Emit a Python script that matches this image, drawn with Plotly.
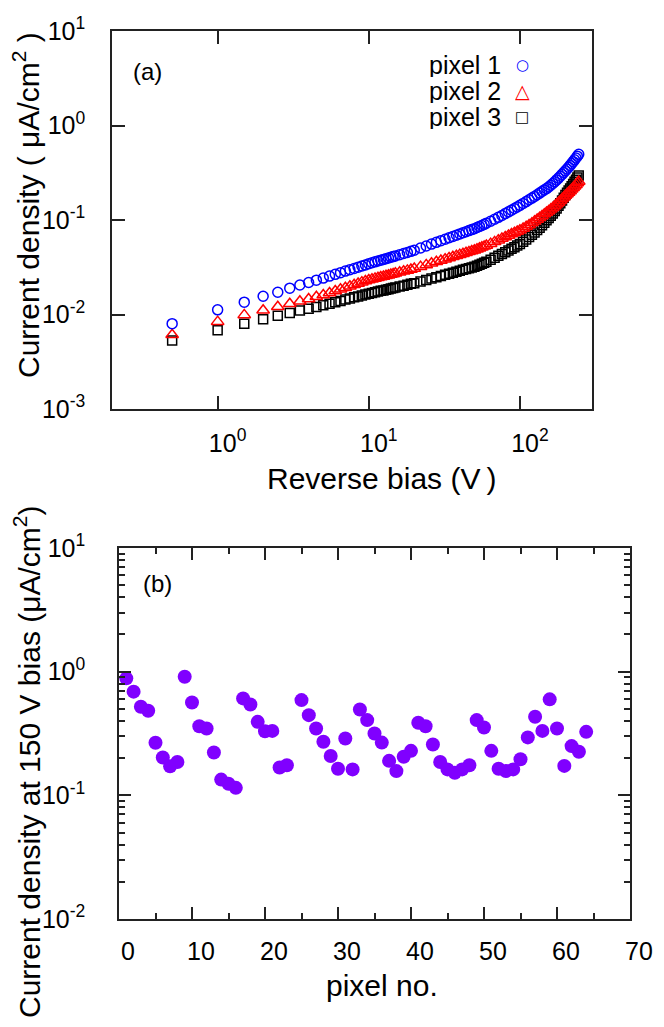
import plotly.graph_objects as go

# ---- panel (a): current density vs reverse bias (uA/cm^2) ----
bias = [0.5, 1, 1.5, 2, 2.5, 3, 3.5, 4, 4.5, 5, 5.5, 6, 6.5, 7, 7.5, 8, 8.5, 9, 9.5, 10,
        10.5, 11, 11.5, 12, 12.5, 13, 13.5, 14, 14.5, 15, 16, 17, 18, 19, 20,
        22, 24, 26, 28, 30, 32, 34, 36, 38, 40, 42, 44, 46, 48, 50, 52, 54, 56, 58, 60,
        64, 68, 72, 76, 80, 84, 88, 92, 96, 100,
        105, 110, 115, 120, 125, 130, 135, 140, 145, 150, 155, 160, 165, 170, 175, 180,
        185, 190, 195, 200, 205, 210, 215, 220, 225, 230, 235, 240, 245]

pixel1 = [0.0080, 0.0112, 0.0135, 0.0156, 0.0172, 0.0190, 0.0205, 0.0218, 0.0231, 0.0243,
          0.0255, 0.0266, 0.0277, 0.0288, 0.0298, 0.0307, 0.0317, 0.0326, 0.0335, 0.0345,
          0.0353, 0.0361, 0.0368, 0.0375, 0.0383, 0.0390, 0.0397, 0.0403, 0.0410, 0.0417,
          0.0430, 0.0442, 0.0454, 0.0466, 0.0478,
          0.0505, 0.0531, 0.0556, 0.0580, 0.0604, 0.0626, 0.0649, 0.0670, 0.0691, 0.0712,
          0.0732, 0.0752, 0.0772, 0.0791, 0.0810, 0.0832, 0.0855, 0.0877, 0.0900, 0.0923,
          0.0970, 0.1018, 0.1067, 0.1117, 0.1169, 0.1219, 0.1270, 0.1322, 0.1376, 0.1430,
          0.1497, 0.1566, 0.1636, 0.1705, 0.1777, 0.1851, 0.1927, 0.2005, 0.2080, 0.2150,
          0.2236, 0.2331, 0.2434, 0.2539, 0.2655, 0.2775, 0.2903, 0.3036, 0.3180, 0.3320,
          0.3463, 0.3616, 0.3782, 0.3961, 0.4144, 0.4331, 0.4531, 0.4739, 0.4950]

pixel2 = [0.0061, 0.0084, 0.0099, 0.0111, 0.0121, 0.0130, 0.0138, 0.0146, 0.0154, 0.0161,
          0.0169, 0.0177, 0.0185, 0.0192, 0.0199, 0.0206, 0.0213, 0.0220, 0.0226, 0.0232,
          0.0236, 0.0241, 0.0245, 0.0249, 0.0253, 0.0257, 0.0261, 0.0265, 0.0269, 0.0273,
          0.0280, 0.0287, 0.0293, 0.0299, 0.0306,
          0.0321, 0.0335, 0.0348, 0.0361, 0.0373, 0.0385, 0.0397, 0.0408, 0.0419, 0.0430,
          0.0440, 0.0450, 0.0460, 0.0470, 0.0479, 0.0490, 0.0502, 0.0514, 0.0526, 0.0538,
          0.0562, 0.0587, 0.0612, 0.0637, 0.0662, 0.0685, 0.0712, 0.0734, 0.0756, 0.0778,
          0.0813, 0.0850, 0.0887, 0.0927, 0.0968, 0.1011, 0.1057, 0.1104, 0.1154, 0.1200,
          0.1246, 0.1297, 0.1351, 0.1409, 0.1469, 0.1533, 0.1600, 0.1670, 0.1741, 0.1820,
          0.1886, 0.1956, 0.2032, 0.2110, 0.2192, 0.2280, 0.2367, 0.2459, 0.2555]

pixel3 = [0.0053, 0.0068, 0.0080, 0.0089, 0.0097, 0.0104, 0.0110, 0.0115, 0.0120, 0.0125,
          0.0130, 0.0135, 0.0139, 0.0144, 0.0148, 0.0152, 0.0155, 0.0159, 0.0163, 0.0166,
          0.0169, 0.0172, 0.0175, 0.0178, 0.0180, 0.0183, 0.0185, 0.0188, 0.0191, 0.0193,
          0.0198, 0.0202, 0.0206, 0.0211, 0.0214,
          0.0223, 0.0232, 0.0240, 0.0248, 0.0256, 0.0263, 0.0270, 0.0277, 0.0284, 0.0290,
          0.0297, 0.0303, 0.0309, 0.0315, 0.0320, 0.0328, 0.0336, 0.0344, 0.0353, 0.0362,
          0.0380, 0.0399, 0.0418, 0.0436, 0.0455, 0.0475, 0.0495, 0.0515, 0.0536, 0.0557,
          0.0589, 0.0623, 0.0660, 0.0698, 0.0739, 0.0783, 0.0830, 0.0880, 0.0934, 0.0991,
          0.1047, 0.1108, 0.1175, 0.1248, 0.1327, 0.1413, 0.1506, 0.1607, 0.1718, 0.1837,
          0.1940, 0.2047, 0.2160, 0.2278, 0.2403, 0.2534, 0.2671, 0.2814, 0.2965]

# ---- panel (b): current density at 150 V for each pixel ----
pixel_no = [1, 2, 3, 4, 5, 6, 7, 8, 9, 10, 11, 12, 13, 14, 15, 16, 17, 18, 19, 20, 21, 22, 23,
            25, 26, 27, 28, 29, 30, 31, 32, 33, 34, 35, 36, 37, 38, 39, 40, 41, 42, 43, 44,
            45, 46, 47, 48, 49, 50, 51, 52, 53, 54, 55, 56, 57, 58, 59, 60, 61, 62, 63, 64]
j150 = [0.883, 0.689, 0.520, 0.483, 0.266, 0.202, 0.172, 0.186, 0.910, 0.564, 0.362, 0.347,
        0.222, 0.134, 0.124, 0.115, 0.608, 0.543, 0.393, 0.330, 0.332, 0.168, 0.175,
        0.589, 0.445, 0.347, 0.271, 0.208, 0.164, 0.288, 0.162, 0.495, 0.406, 0.316, 0.267,
        0.190, 0.157, 0.205, 0.229, 0.386, 0.362, 0.258, 0.186, 0.162, 0.152, 0.162, 0.175,
        0.406, 0.354, 0.229, 0.164, 0.157, 0.162, 0.196, 0.294, 0.432, 0.332, 0.597, 0.347,
        0.173, 0.250, 0.225, 0.326]

# the page body has an 8px margin, so the figure is a bit smaller than the window
OFF = 8
W, H = 664 - OFF, 1027 - OFF
FONT = "Liberation Sans, Arial, sans-serif"
AX = "#222222"


def px(x):
    return (x - OFF) / W


def py(y):
    return 1 - (y - OFF) / H


def sup(e):
    return "10<sup>%d</sup>" % e


fig = go.Figure()

series = [("pixel 1", pixel1, "circle-open", "#0000ff", 10, "○", 15),
          ("pixel 2", pixel2, "triangle-up-open", "#ff0000", 11, "△", 19),
          ("pixel 3", pixel3, "square-open", "#000000", 9, "□", 15)]
for name, ys, sym, col, sz, _, _ in series[::-1]:
    fig.add_trace(go.Scatter(x=bias, y=ys, mode="markers", name=name, showlegend=False,
                             marker=dict(symbol=sym, size=sz, color=col,
                                         line=dict(color=col, width=1.5)),
                             xaxis="x", yaxis="y"))

fig.add_trace(go.Scatter(x=pixel_no, y=j150, mode="markers", showlegend=False,
                         marker=dict(size=14, color="#8000ff"),
                         xaxis="x2", yaxis="y2"))

common = dict(showgrid=False, zeroline=False, showline=True, linecolor=AX, linewidth=1.5,
              mirror="allticks", ticks="inside", tickcolor=AX, tickwidth=1.5,
              tickfont=dict(family=FONT, size=25, color="black"), automargin=False)

fig.update_layout(
    width=W, height=H, margin=dict(l=0, r=0, t=0, b=0),
    paper_bgcolor="white", plot_bgcolor="white", showlegend=False,
    font=dict(family=FONT, color="black"),
    xaxis=dict(common, domain=[px(112), px(592)], anchor="y", type="log",
               range=[-0.699, 2.477], tickvals=[1, 10, 100],
               ticktext=[sup(0), sup(1), sup(2)], ticklen=13, ticklabelstandoff=11,
               ticklabelshift=10),
    yaxis=dict(common, domain=[py(409), py(31)], anchor="x", type="log",
               range=[-3, 1], tickvals=[1e-3, 1e-2, 1e-1, 1, 10],
               ticktext=[sup(-3), sup(-2), sup(-1), sup(0), sup(1)], ticklen=13,
               ticklabelstandoff=20),
    xaxis2=dict(common, domain=[px(119), px(630)], anchor="y2", range=[0, 70],
                tickvals=[0, 10, 20, 30, 40, 50, 60, 70], ticklen=12,
                ticklabelshift=9, ticklabelstandoff=9,
                minor=dict(tickvals=[5, 15, 25, 35, 45, 55, 65], ticks="inside",
                           ticklen=6, tickcolor=AX, tickwidth=1.5, showgrid=False)),
    yaxis2=dict(common, domain=[py(919), py(548)], anchor="x2", type="log",
                range=[-2, 1], tickvals=[1e-2, 1e-1, 1, 10],
                ticktext=[sup(-2), sup(-1), sup(0), sup(1)], ticklen=12,
                ticklabelstandoff=27,
                minor=dict(tickvals=[k * 10 ** e for e in (-2, -1, 0) for k in range(2, 10)],
                           ticks="inside", ticklen=6, tickcolor=AX, tickwidth=1.5,
                           showgrid=False)),
)

ann = [
    dict(text="Current density ( μA/cm<sup>2</sup> )", x=px(26), y=py(205), textangle=-90,
         font=dict(size=30)),
    dict(text="Reverse bias (V\u2009)", x=px(382), y=py(478), font=dict(size=30)),
    dict(text="Current density at 150 V bias (μA/cm<sup>2</sup>)", x=px(27), y=py(762),
         textangle=-90, font=dict(size=30)),
    dict(text="pixel no.", x=px(382), y=py(985), font=dict(size=30)),
    dict(text="(a)", x=px(147), y=py(72), font=dict(size=24)),
    dict(text="(b)", x=px(157), y=py(583), font=dict(size=24)),
]
for i, (name, ys, sym, col, sz, glyph, gsz) in enumerate(series):
    row = 65 + 26 * i
    ann.append(dict(text=name, x=px(503), y=py(row), xanchor="right", height=24,
                    font=dict(size=25)))
    ann.append(dict(text=glyph, x=px(522), y=py(row), height=24,
                    font=dict(size=gsz, color=col, family="DejaVu Sans")))
for a in ann:
    a.setdefault("xanchor", "center")
    a.update(xref="paper", yref="paper", showarrow=False, yanchor="middle")
fig.update_layout(annotations=ann)

fig.write_html("out.html")
